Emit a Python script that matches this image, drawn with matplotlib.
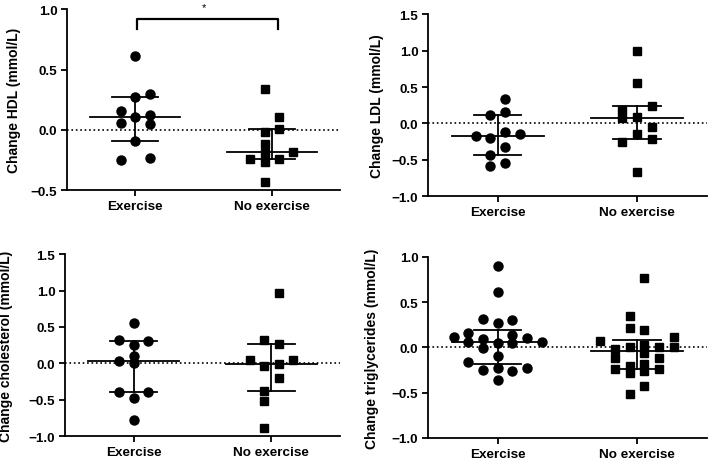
import numpy as np
import matplotlib
matplotlib.use("Agg")
import matplotlib.pyplot as plt
from matplotlib import font_manager

plt.rcParams["font.family"] = ["Liberation Sans", "DejaVu Sans"]
plt.rcParams["font.weight"] = "bold"
plt.rcParams["axes.labelweight"] = "bold"

groups = ["Exercise", "No exercise"]

# values; *_col = horizontal column of each dot in the scatter
hdl_ex = [0.61, 0.27, 0.30, 0.16, 0.12, 0.11, 0.06, 0.05, -0.09, -0.25, -0.23]
hdl_ex_col = [0, 0, 1, -1, 1, 0, -1, 1, 0, -1, 1]
hdl_no = [0.34, 0.11, 0.01, -0.02, -0.12, -0.19, -0.18, -0.24, -0.24, -0.265, -0.43]
hdl_no_col = [-0.5, 0.5, 0.5, -0.5, -0.5, -0.5, 1.5, -1.5, 0.5, -0.5, -0.5]

ldl_ex = [0.33, 0.12, 0.16, -0.17, -0.20, -0.12, -0.15, -0.33, -0.43, -0.54, -0.59]
ldl_ex_col = [0.5, -0.5, 0.5, -1.5, -0.5, 0.5, 1.5, 0.5, -0.5, 0.5, -0.5]
ldl_no = [0.995, 0.56, 0.19, 0.07, 0.24, 0.09, -0.05, -0.14, -0.26, -0.21, -0.665]
ldl_no_col = [0, 0, -1, -1, 1, 0, 1, 0, -1, 1, 0]

chol_ex = [0.55, 0.32, 0.31, 0.25, 0.105, 0.03, 0.0, -0.40, -0.40, -0.48, -0.78]
chol_ex_col = [0, -1, 1, 0, 0, -1, 0, -1, 1, 0, 0]
chol_no = [0.97, 0.32, 0.26, 0.04, 0.05, -0.04, -0.01, -0.20, -0.38, -0.52, -0.885]
chol_no_col = [0.5, -0.5, 0.5, -1.5, 1.5, -0.5, 0.5, 0.5, -0.5, -0.5, -0.5]

tg_ex = [0.90, 0.61, 0.32, 0.27, 0.30, 0.12, 0.16, 0.09, 0.14, 0.11, 0.06,
         0.05, 0.05, 0.06, -0.005, -0.09, -0.16, -0.25, -0.23, -0.26, -0.23, -0.36]
tg_ex_col = [0, 0, -1, 0, 1, -3, -2, -1, 1, 2, -2, 0, 1, 3, -1, 0, -2, -1, 0, 1, 2, 0]
tg_no = [0.77, 0.35, 0.21, 0.19, 0.07, 0.12, -0.02, 0.0, 0.03, -0.06, 0.0,
         0.0, -0.12, -0.12, -0.24, -0.20, -0.28, -0.18, -0.26, -0.24, -0.43, -0.51]
tg_no_col = [0.5, -0.5, -0.5, 0.5, -2.5, 2.5, -1.5, -0.5, 0.5, 0.5, 1.5,
             2.5, -1.5, 1.5, -1.5, -0.5, -0.5, 0.5, 0.5, 1.5, 0.5, -0.5]

panels = [
    ("Change HDL (mmol/L)", (-0.5, 1.0), [-0.5, 0.0, 0.5, 1.0],
     [(hdl_ex, hdl_ex_col), (hdl_no, hdl_no_col)], [0.0945, 0.588, 0.385, 0.390], -0.168),
    ("Change LDL (mmol/L)", (-1.0, 1.5), [-1.0, -0.5, 0.0, 0.5, 1.0, 1.5],
     [(ldl_ex, ldl_ex_col), (ldl_no, ldl_no_col)], [0.6037, 0.575, 0.393, 0.392], -0.158),
    ("Change cholesterol (mmol/L)", (-1.0, 1.5), [-1.0, -0.5, 0.0, 0.5, 1.0, 1.5],
     [(chol_ex, chol_ex_col), (chol_no, chol_no_col)], [0.0917, 0.058, 0.388, 0.392], -0.189),
    ("Change triglycerides (mmol/L)", (-1.0, 1.0), [-1.0, -0.5, 0.0, 0.5, 1.0],
     [(tg_ex, tg_ex_col), (tg_no, tg_no_col)], [0.6037, 0.054, 0.393, 0.390], -0.176),
]

col_step = 0.105
markers = ["o", "s"]
msizes = [6.5, 6.0]
lw = 1.3
bold = font_manager.FontProperties(family=["Liberation Sans", "DejaVu Sans"],
                                   weight="bold", size=9.7)
bold_lab = font_manager.FontProperties(family=["Liberation Sans", "DejaVu Sans"],
                                       weight="bold", size=10)

fig = plt.figure(figsize=(7.09, 4.64), dpi=100)
axes = []
for ylabel, ylim, yticks, data, rect, lab_x in panels:
    ax = fig.add_axes(rect)
    axes.append(ax)
    ax.axhline(0, color="black", linestyle=":", linewidth=1.2, zorder=1)
    for i, (vals, cols) in enumerate(data):
        vals = np.asarray(vals)
        xs = i + np.asarray(cols) * col_step
        ax.plot(xs, vals, linestyle="none", marker=markers[i], markersize=msizes[i],
                color="black", zorder=3)
        q1, med, q3 = np.percentile(vals, [25, 50, 75], method="weibull")
        ax.plot([i - 0.33, i + 0.33], [med, med], color="black", lw=lw, zorder=4)
        ax.plot([i - 0.17, i + 0.17], [q1, q1], color="black", lw=lw, zorder=4)
        ax.plot([i - 0.17, i + 0.17], [q3, q3], color="black", lw=lw, zorder=4)
        ax.plot([i, i], [q1, q3], color="black", lw=lw, zorder=4)
    ax.set_xlim(-0.5, 1.5)
    ax.set_ylim(*ylim)
    ax.set_yticks(yticks)
    ax.set_yticklabels([f"{t:.1f}".replace("-", "\u2212") for t in yticks],
                       fontproperties=bold)
    ax.set_xticks([0, 1])
    ax.set_xticklabels(groups, fontproperties=bold)
    for side in ["top", "right"]:
        ax.spines[side].set_visible(False)
    for side in ["left", "bottom"]:
        ax.spines[side].set_linewidth(1.3)
    ax.tick_params(direction="out", length=4, width=1.3, pad=3)
    ax.tick_params(axis="x", pad=3)
    ax.set_ylabel(ylabel, fontproperties=bold_lab)
    ax.yaxis.set_label_coords(lab_x, 0.5)

# significance bracket on HDL panel
ax = axes[0]
ax.plot([0.01, 0.01, 1.045, 1.045], [0.84, 0.917, 0.917, 0.84], color="black",
        lw=1.6, clip_on=False)
ax.text(0.5, 1.02, "*", ha="center", va="center", fontsize=8, fontweight="normal")

fig.savefig("out.png", dpi=100)
